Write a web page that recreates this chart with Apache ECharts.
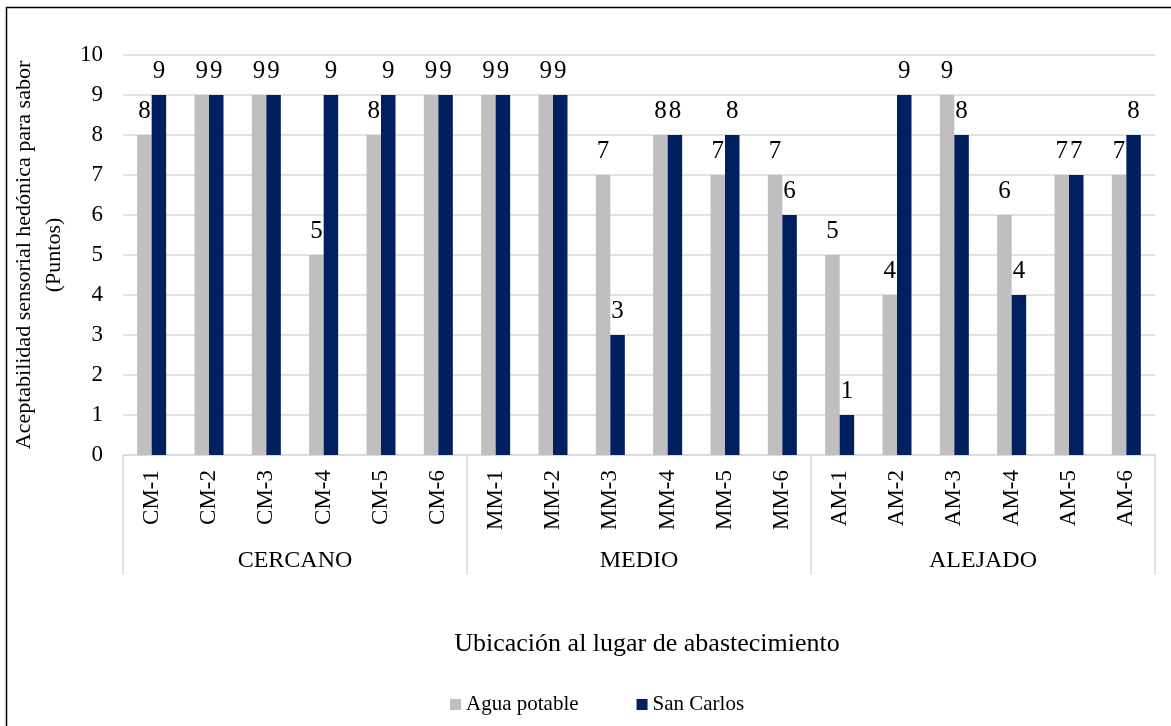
<!DOCTYPE html>
<html>
<head>
    <meta charset="utf-8">
    <script src="https://cdn.jsdelivr.net/npm/echarts@6/dist/echarts.min.js"></script>
    <style>
        body { margin: 0; background: #fff; }
    </style>
</head>
<body>
    <div id="main" style="width: 1171px;height:726px;"></div>
    <script type="text/javascript">
        // datos
        var muestras = ['CM-1', 'CM-2', 'CM-3', 'CM-4', 'CM-5', 'CM-6',
                        'MM-1', 'MM-2', 'MM-3', 'MM-4', 'MM-5', 'MM-6',
                        'AM-1', 'AM-2', 'AM-3', 'AM-4', 'AM-5', 'AM-6'];
        var grupos = ['CERCANO', 'MEDIO', 'ALEJADO'];
        var aguaPotable = [8, 9, 9, 5, 8, 9, 9, 9, 7, 8, 7, 7, 5, 4, 9, 6, 7, 7];
        var sanCarlos = [9, 9, 9, 9, 9, 9, 9, 9, 3, 8, 8, 6, 1, 9, 8, 4, 7, 8];

        var fuente = "'Liberation Serif', 'Times New Roman', serif";
        var myChart = echarts.init(document.getElementById('main'));

        var etiqueta = {
            show: true,
            position: 'top',
            distance: 11,
            color: '#000',
            fontFamily: fuente,
            fontSize: 25
        };

        var option = {
            animation: false,
            textStyle: { fontFamily: fuente },
            graphic: [{
                type: 'rect',
                shape: { x: 6.5, y: 7.5, width: 1300, height: 900 },
                style: { fill: 'none', stroke: '#000', lineWidth: 1.5 },
                silent: true
            }],
            grid: { left: 123, right: 16, top: 55, bottom: 271 },
            legend: {
                bottom: 6,
                left: 445,
                icon: 'rect',
                itemWidth: 11,
                itemHeight: 11,
                itemGap: 58,
                textStyle: { fontFamily: fuente, fontSize: 21, color: '#000' },
                data: ['Agua potable', 'San Carlos']
            },
            xAxis: [{
                type: 'category',
                position: 'bottom',
                data: muestras,
                axisLine: { lineStyle: { color: '#d9d9d9', width: 1.5 } },
                axisTick: { show: false },
                axisLabel: {
                    rotate: 90,
                    margin: 15,
                    interval: 0,
                    color: '#000',
                    fontFamily: fuente,
                    fontSize: 23
                }
            }, {
                type: 'category',
                position: 'bottom',
                data: grupos,
                name: 'Ubicación al lugar de abastecimiento',
                nameLocation: 'middle',
                nameGap: 176,
                nameTextStyle: { color: '#000', fontFamily: fuente, fontSize: 26, padding: [0, 0, 0, 16] },
                axisLine: { show: false },
                axisTick: { show: true, length: 120, lineStyle: { color: '#d9d9d9', width: 1.5 } },
                axisLabel: {
                    margin: 94,
                    color: '#000',
                    fontFamily: fuente,
                    fontSize: 24
                }
            }],
            yAxis: {
                type: 'value',
                min: 0,
                max: 10,
                interval: 1,
                name: 'Aceptabilidad sensorial hedónica para sabor\n(Puntos)',
                nameLocation: 'middle',
                nameGap: 51,
                nameTextStyle: { color: '#000', fontFamily: fuente, fontSize: 22, lineHeight: 30 },
                axisLine: { show: false },
                axisTick: { show: false },
                axisLabel: { margin: 20, color: '#000', fontFamily: fuente, fontSize: 23 },
                splitLine: { lineStyle: { color: '#d9d9d9', width: 1.5 } }
            },
            series: [{
                name: 'Agua potable',
                type: 'bar',
                xAxisIndex: 0,
                data: aguaPotable,
                barWidth: 14.5,
                barGap: '0%',
                itemStyle: { color: '#bfbfbf' },
                label: etiqueta
            }, {
                name: 'San Carlos',
                type: 'bar',
                xAxisIndex: 0,
                data: sanCarlos,
                barWidth: 14.5,
                barGap: '0%',
                itemStyle: { color: '#002060' },
                label: etiqueta
            }]
        };
        myChart.setOption(option);
    </script>
</body>
</html>
